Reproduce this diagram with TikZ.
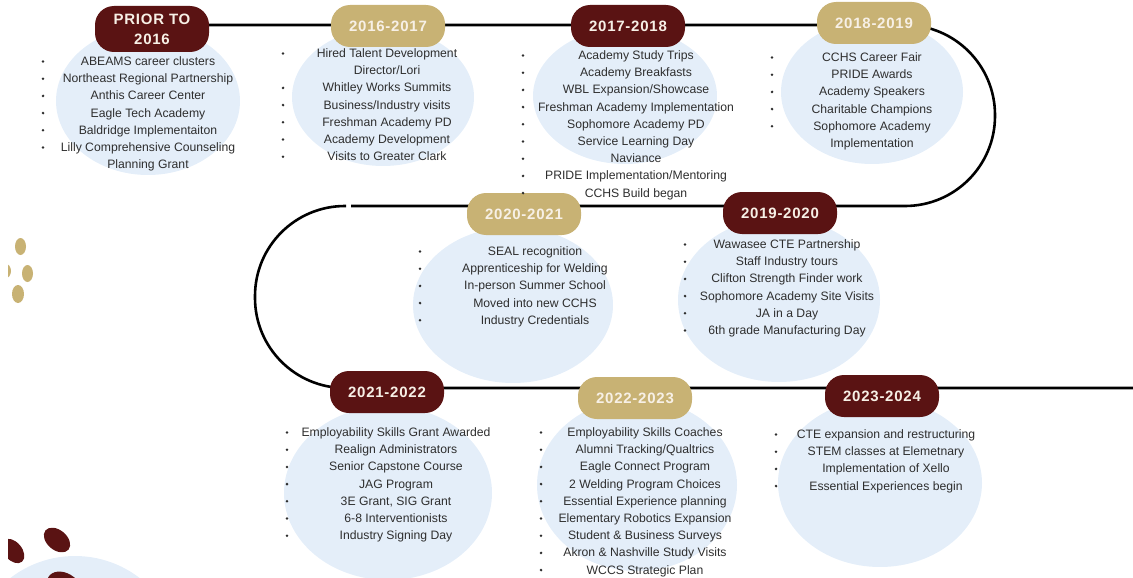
\documentclass[tikz,border=0pt]{standalone}
\usepackage{fontspec}
\setmainfont{Liberation Sans}
\newfontfamily\badgefont[LetterSpace=5]{Liberation Sans}

\definecolor{yearred}{HTML}{5A1313}
\definecolor{yeargold}{HTML}{C8B274}
\definecolor{blobblue}{HTML}{E4EEF9}
\definecolor{inktext}{HTML}{2E2E2E}
\definecolor{badgetext}{HTML}{F7F0E6}

\pgfdeclarelayer{blobs}
\pgfdeclarelayer{track}
\pgfsetlayers{blobs,track,main}

\tikzset{
    badge/.style={rectangle, rounded corners=19pt, minimum width=114pt, minimum height=42pt,
        inner sep=0pt, align=center, text=badgetext, font=\badgefont\bfseries\fontsize{15}{20}\selectfont},
    entry/.style={anchor=base, inner sep=0pt, text=inktext, font=\fontsize{12.2}{14}\selectfont},
    dot/.style={fill=inktext},
    timeline/.style={line width=2.6pt, rounded corners=90pt},
    blob/.style={fill=blobblue},
}

\begin{document}
\begin{tikzpicture}[x=1pt, y=-1pt]
    \useasboundingbox (0,0) rectangle (1133,578);

    % Blue blobs
    \begin{pgfonlayer}{blobs}
        \fill[blob] (148,101) ellipse (92 and 74);
        \fill[blob] (383,97) ellipse (91 and 69);
        \fill[blob] (625,96) ellipse (92 and 68);
        \fill[blob] (872,92) ellipse (91 and 72);
        \fill[blob] (513,305) ellipse (100 and 78);
        \fill[blob] (779,300) ellipse (101 and 82);
        \fill[blob] (388,493) ellipse (104 and 87);
        \fill[blob] (637,485) ellipse (100 and 86);
        \fill[blob] (880,483) ellipse (102 and 84);
    \end{pgfonlayer}

    % Dots on the left
    \begin{scope}
        \clip (8,0) rectangle (1133,578);
        \fill[yeargold] (20.5,246.5) ellipse (5.5 and 8.5);
        \fill[yeargold] (27.5,273.5) ellipse (5.5 and 8.5);
        \fill[yeargold] (18,294) ellipse (6 and 9);
        \fill[yeargold] (5,271) ellipse (6 and 7.5);
        \fill[blob] (75,662) circle (106);
        \fill[yearred, rotate around={-40:(57,540)}] (57,540) ellipse (15 and 10);
        \fill[yearred, rotate around={-50:(13,551)}] (13,551) ellipse (14 and 9);
        \fill[yearred, rotate around={-30:(64,586)}] (64,586) ellipse (18 and 13);
    \end{scope}

    % Year badges
    \node[badge, fill=yearred, minimum height=46pt] (prior) at (152,29) {PRIOR TO\\2016};
    \node[badge, fill=yeargold] (y2016) at (388,26) {2016-2017};
    \node[badge, fill=yearred] (y2017) at (628,26) {2017-2018};
    \node[badge, fill=yeargold] (y2018) at (874,23) {2018-2019};
    \node[badge, fill=yearred] (y2019) at (780,213) {2019-2020};
    \node[badge, fill=yeargold] (y2020) at (524,214) {2020-2021};
    \node[badge, fill=yearred] (y2021) at (387,392) {2021-2022};
    \node[badge, fill=yeargold] (y2022) at (635,398) {2022-2023};
    \node[badge, fill=yearred] (y2023) at (882,396) {2023-2024};

    % Track
    \coordinate (turnR1) at (995,25);
    \coordinate (turnR2) at (995,206);
    \coordinate (gapR) at (351,206);
    \coordinate (gapL) at (346,206);
    \coordinate (turnL1) at (255,206);
    \coordinate (turnL2) at (255,388);
    \coordinate (lineend) at (1133,388);
    \begin{pgfonlayer}{track}
        \draw[timeline] (prior.center |- turnR1) -- (turnR1) -- (turnR2) -- (gapR);
        \draw[timeline] (gapL) -- (turnL1) -- (turnL2) -- (lineend);
    \end{pgfonlayer}

    % Prior to 2016
    \foreach \hasdot/\txt [count=\i] in {1/{ABEAMS career clusters}, 1/{Northeast Regional Partnership},
        1/{Anthis Career Center}, 1/{Eagle Tech Academy}, 1/{Baldridge Implementaiton},
        1/{Lilly Comprehensive Counseling}, 0/{Planning Grant}}{
        \node[entry] (prior-\i) at (148,{65.5+17.2*(\i-1)}) {\txt};
        \ifnum\hasdot=1 \fill[dot] (43,{61.5+17.2*(\i-1)}) circle (1.4); \fi
    }

    % 2016-2017
    \foreach \hasdot/\txt [count=\i] in {1/{Hired Talent Development}, 0/{Director/Lori},
        1/{Whitley Works Summits}, 1/{Business/Industry visits}, 1/{Freshman Academy PD},
        1/{Academy Development}, 1/{Visits to Greater Clark}}{
        \node[entry] (y2016-\i) at (387,{57.5+17.2*(\i-1)}) {\txt};
        \ifnum\hasdot=1 \fill[dot] (283,{53.5+17.2*(\i-1)}) circle (1.4); \fi
    }

    % 2017-2018
    \foreach \hasdot/\txt [count=\i] in {1/{Academy Study Trips}, 1/{Academy Breakfasts},
        1/{WBL Expansion/Showcase}, 1/{Freshman Academy Implementation}, 1/{Sophomore Academy PD},
        1/{Service Learning Day}, 1/{Naviance}, 1/{PRIDE Implementation/Mentoring},
        1/{CCHS Build began}}{
        \node[entry] (y2017-\i) at (636,{59.5+17.2*(\i-1)}) {\txt};
        \ifnum\hasdot=1 \fill[dot] (523,{55.5+17.2*(\i-1)}) circle (1.4); \fi
    }

    % 2018-2019
    \foreach \hasdot/\txt [count=\i] in {1/{CCHS Career Fair}, 1/{PRIDE Awards},
        1/{Academy Speakers}, 1/{Charitable Champions}, 1/{Sophomore Academy},
        0/{Implementation}}{
        \node[entry] (y2018-\i) at (872,{61.5+17.2*(\i-1)}) {\txt};
        \ifnum\hasdot=1 \fill[dot] (772,{57.5+17.2*(\i-1)}) circle (1.4); \fi
    }

    % 2019-2020
    \foreach \hasdot/\txt [count=\i] in {1/{Wawasee CTE Partnership}, 1/{Staff Industry tours},
        1/{Clifton Strength Finder work}, 1/{Sophomore Academy Site Visits}, 1/{JA in a Day},
        1/{6th grade Manufacturing Day}}{
        \node[entry] (y2019-\i) at (787,{248.5+17.2*(\i-1)}) {\txt};
        \ifnum\hasdot=1 \fill[dot] (685,{244.5+17.2*(\i-1)}) circle (1.4); \fi
    }

    % 2020-2021
    \foreach \hasdot/\txt [count=\i] in {1/{SEAL recognition}, 1/{Apprenticeship for Welding},
        1/{In-person Summer School}, 1/{Moved into new CCHS}, 1/{Industry Credentials}}{
        \node[entry] (y2020-\i) at (535,{255.5+17.2*(\i-1)}) {\txt};
        \ifnum\hasdot=1 \fill[dot] (420,{251.5+17.2*(\i-1)}) circle (1.4); \fi
    }

    % 2021-2022
    \foreach \hasdot/\txt [count=\i] in {1/{Employability Skills Grant Awarded},
        1/{Realign Administrators}, 1/{Senior Capstone Course}, 1/{JAG Program},
        1/{3E Grant, SIG Grant}, 1/{6-8 Interventionists}, 1/{Industry Signing Day}}{
        \node[entry] (y2021-\i) at (396,{436.5+17.2*(\i-1)}) {\txt};
        \ifnum\hasdot=1 \fill[dot] (287,{432.5+17.2*(\i-1)}) circle (1.4); \fi
    }

    % 2022-2023
    \foreach \hasdot/\txt [count=\i] in {1/{Employability Skills Coaches},
        1/{Alumni Tracking/Qualtrics}, 1/{Eagle Connect Program}, 1/{2 Welding Program Choices},
        1/{Essential Experience planning}, 1/{Elementary Robotics Expansion},
        1/{Student \& Business Surveys}, 1/{Akron \& Nashville Study Visits},
        1/{WCCS Strategic Plan}}{
        \node[entry] (y2022-\i) at (645,{436.5+17.2*(\i-1)}) {\txt};
        \ifnum\hasdot=1 \fill[dot] (541,{432.5+17.2*(\i-1)}) circle (1.4); \fi
    }

    % 2023-2024
    \foreach \hasdot/\txt [count=\i] in {1/{CTE expansion and restructuring},
        1/{STEM classes at Elemetnary}, 1/{Implementation of Xello},
        1/{Essential Experiences begin}}{
        \node[entry] (y2023-\i) at (886,{438.5+17.2*(\i-1)}) {\txt};
        \ifnum\hasdot=1 \fill[dot] (776,{434.5+17.2*(\i-1)}) circle (1.4); \fi
    }
\end{tikzpicture}
\end{document}
